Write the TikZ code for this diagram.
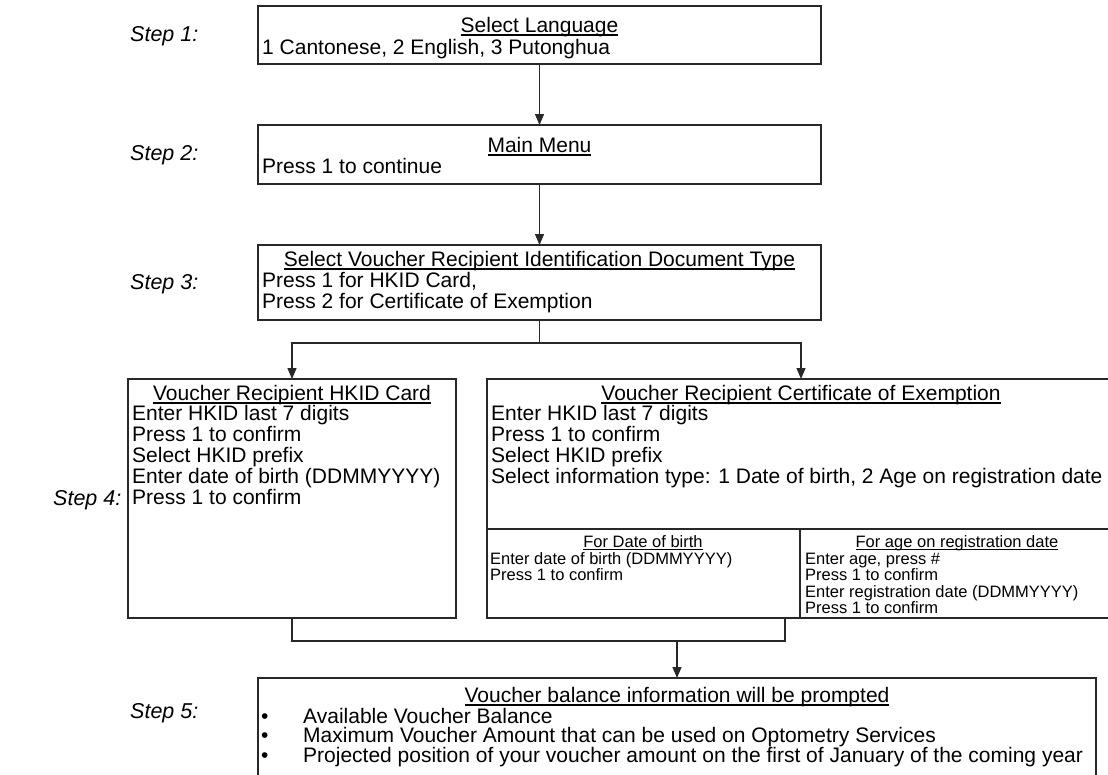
\documentclass[tikz,border=0pt]{standalone}
\usepackage{fontspec}
\setmainfont{Liberation Sans}
\usetikzlibrary{arrows.meta,calc}
\definecolor{edge}{RGB}{40,40,40}
% underlined heading, rule set just under the baseline
\newcommand\hdr[1]{\setbox0=\hbox{#1}\rlap{\rule[-0.17em]{\wd0}{0.07em}}\box0}
% stacked lines at a fixed baseline distance, aligned on the first line
\newcommand\rows[1]{\vtop{\lineskiplimit=-1000pt\relax #1}}
\newcommand\rowtext[1]{\hbox{#1}}

\begin{document}
\begin{tikzpicture}[x=1pt,y=-1pt,
  box/.style={draw=edge, line width=1.3pt, inner sep=0pt, outer sep=0pt, anchor=north west},
  link/.style={draw=edge, line width=1.3pt},
  arr/.style={link, -{Triangle[length=11pt,width=9pt]}},
  txt/.style={inner sep=0pt, font=\fontsize{21}{21}\selectfont},
  sml/.style={inner sep=0pt, font=\fontsize{16.5}{16.5}\selectfont},
  steplbl/.style={inner sep=0pt, anchor=base west, font=\fontsize{21.5}{24}\selectfont\itshape}]
\useasboundingbox (0,0) rectangle (1108,774);
\clip (0,0) rectangle (1108,774);

% step labels
\node[steplbl] (s1) at (130,41) {Step 1:};
\node[steplbl] (s2) at (130,160) {Step 2:};
\node[steplbl] (s3) at (130,289) {Step 3:};
\node[steplbl] (s4) at (53,505) {Step 4:};
\node[steplbl] (s5) at (130,718) {Step 5:};

% frames
\node[box, minimum width=563pt, minimum height=58pt] (b1) at (258,6) {};
\node[box, minimum width=563pt, minimum height=59pt] (b2) at (258,125) {};
\node[box, minimum width=563pt, minimum height=75pt] (b3) at (258,245) {};
\node[box, minimum width=328pt, minimum height=239pt] (b4l) at (128,379) {};
\node[box, minimum width=628pt, minimum height=239pt] (b4r) at (487,379) {};
\node[box, minimum width=838pt, minimum height=140pt] (b5) at (258,678) {};

% sub-panels of the certificate frame
\draw[link] ($(b4r.north west)+(0,150)$) -- ($(b4r.north east)+(0,150)$);
\draw[link] ($(b4r.north west)+(313,150)$) -- ($(b4r.south west)+(313,0)$);

% step 1
\node[txt, anchor=base] (t1) at (539.5,32) {\hdr{Select Language}};
\node[txt, anchor=base west] (l1) at (262,54) {1 Cantonese, 2 English, 3 Putonghua};
% step 2
\node[txt, anchor=base] (t2) at (539.5,152) {\hdr{Main Menu}};
\node[txt, anchor=base west] (l2) at (262,173) {Press 1 to continue};
% step 3
\node[txt, anchor=base] (t3) at (539.5,266) {\hdr{Select Voucher Recipient Identification Document Type}};
\node[txt, anchor=base west] (l3) at (262,287) {\rows{\rowtext{Press 1 for HKID Card,}\rowtext{Press 2 for Certificate of Exemption}}};
% step 4, HKID card
\node[txt, anchor=base] (t4l) at (292,400) {\hdr{Voucher Recipient HKID Card}};
\node[txt, anchor=base west] (l4l) at (132,420) {\rows{\rowtext{Enter HKID last 7 digits}\rowtext{Press 1 to confirm}\rowtext{Select HKID prefix}\rowtext{Enter date of birth (DDMMYYYY)}\rowtext{Press 1 to confirm}}};
% step 4, certificate of exemption
\node[txt, anchor=base] (t4r) at (801,400) {\hdr{Voucher Recipient Certificate of Exemption}};
\node[txt, anchor=base west] (l4r) at (491,420) {\rows{\rowtext{Enter HKID last 7 digits}\rowtext{Press 1 to confirm}\rowtext{Select HKID prefix}\rowtext{Select information type: 1 Date of birth, 2 Age on registration date}}};
\node[sml, anchor=base] (t4a) at (643,547) {\hdr{For Date of birth}};
\node[sml, anchor=base west] (l4a) at (490,564) {\rows{\rowtext{Enter date of birth (DDMMYYYY)}\rowtext{Press 1 to confirm}}};
\node[sml, anchor=base] (t4b) at (957,547) {\hdr{For age on registration date}};
\node[sml, anchor=base west] (l4b) at (805,564) {\rows{\rowtext{Enter age, press \#}\rowtext{Press 1 to confirm}\rowtext{Enter registration date (DDMMYYYY)}\rowtext{Press 1 to confirm}}};
% step 5
\node[txt, anchor=base] (t5) at (677,702) {\hdr{Voucher balance information will be prompted}};
\node[txt, font=\fontsize{21}{19.5}\selectfont, anchor=base west] (d5) at (261,723) {\rows{\rowtext{•}\rowtext{•}\rowtext{•}}};
\node[txt, font=\fontsize{21}{19.5}\selectfont, anchor=base west] (l5) at (303,723) {\rows{\rowtext{Available Voucher Balance}\rowtext{Maximum Voucher Amount that can be used on Optometry Services}\rowtext{Projected position of your voucher amount on the first of January of the coming year}}};

% connectors
\draw[arr] (b1.south) -- (b2.north);
\draw[arr] (b2.south) -- (b3.north);
\coordinate (sp) at ($(b3.south)+(0,23)$);
\draw[link] (b3.south) -- (sp);
\draw[arr] (sp) -| (b4l.north);
\draw[arr] (sp) -| (b4r.north);
\coordinate (jr) at ($(b4r.south west)+(298,0)$);
\coordinate (jm) at ($(b4l.south)+(0,23)$);
\draw[link] (b4l.south) |- (jr |- jm) -- (jr);
\draw[arr] (b5.north |- jm) -- (b5.north);
\end{tikzpicture}
\end{document}
